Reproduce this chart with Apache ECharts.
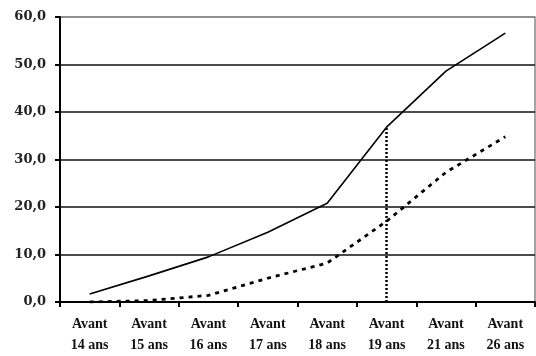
<!DOCTYPE html>
<html><head><meta charset="utf-8">
<script src="https://cdn.jsdelivr.net/npm/echarts@6/dist/echarts.min.js"></script>
<style>html,body{margin:0;padding:0;background:#fff}#c{width:536px;height:356px}</style>
</head><body><div id="c"></div>
<script>
var categories = ["Avant\n14 ans","Avant\n15 ans","Avant\n16 ans","Avant\n17 ans","Avant\n18 ans","Avant\n19 ans","Avant\n21 ans","Avant\n26 ans"];
var solidValues = [1.7, 5.5, 9.5, 14.7, 20.8, 36.8, 48.6, 56.6];
var dashedValues = [0.0, 0.3, 1.4, 5.0, 8.2, 17.0, 27.3, 34.8];
var yTicks = [0, 10, 20, 30, 40, 50, 60];
var markIndex = 5;

var xFont = '"Liberation Serif", "DejaVu Serif", serif';
var yFont = '"DejaVu Serif", "Liberation Serif", serif';
var chart = echarts.init(document.getElementById('c'));
chart.setOption({
  animation: false,
  grid: {left: 60, right: 1, top: 17, bottom: 53, show: true, borderColor: '#888', borderWidth: 1.5},
  xAxis: {
    type: 'category', data: categories, boundaryGap: true,
    axisLine: {lineStyle: {color: '#000', width: 2}},
    axisTick: {show: true, length: 5, lineStyle: {color: '#000', width: 2}},
    axisLabel: {color: '#111', fontFamily: xFont, fontWeight: 'bold', fontSize: 14, lineHeight: 21, margin: 12, interval: 0}
  },
  yAxis: {
    type: 'value', min: yTicks[0], max: yTicks[yTicks.length-1], interval: 10,
    axisLine: {show: true, lineStyle: {color: '#000', width: 2}},
    axisTick: {show: true, length: 5, lineStyle: {color: '#000', width: 2}},
    splitLine: {show: true, lineStyle: {color: ['#111','#111','#111','#111','#111','#111','#888'], width: 1.5}},
    axisLabel: {color: '#222', fontFamily: yFont, fontWeight: 'bold', fontSize: 13, margin: 14,
      formatter: function(v){ return v.toFixed(1).replace('.', ','); }}
  },
  series: [
    {type: 'line', data: solidValues, symbol: 'none', lineStyle: {color: '#000', width: 1.6},
     markLine: {silent: true, symbol: ['none','none'], label: {show: false},
       lineStyle: {color: '#000', width: 2.5, type: [2, 2]},
       data: [[{coord: [markIndex, 0]}, {coord: [markIndex, solidValues[markIndex]]}]]}},
    {type: 'line', data: dashedValues, symbol: 'none', lineStyle: {color: '#000', width: 2.8, type: [4, 5]}}
  ]
});
</script></body></html>
